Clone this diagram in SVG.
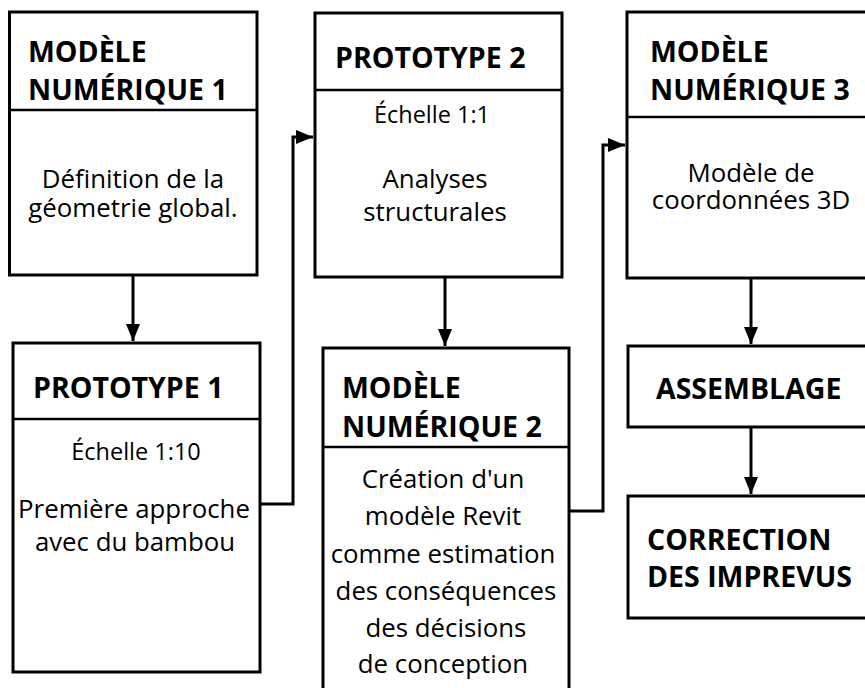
<svg xmlns="http://www.w3.org/2000/svg" width="865" height="688" viewBox="0 0 865 688">
<style>
.box{fill:#fff;stroke:#000;stroke-width:3}
.div{stroke:#000;stroke-width:2.5}
.h{font-family:"Open Sans","Liberation Sans",sans-serif;font-weight:bold;font-size:28.5px;fill:#000}
.b{font-family:"Open Sans","Liberation Sans",sans-serif;font-size:25.8px;fill:#000;text-anchor:middle}
.s{font-family:"Open Sans","Liberation Sans",sans-serif;font-size:23.5px;fill:#000;text-anchor:middle}
.c{fill:none;stroke:#000;stroke-width:3}
</style>
<defs>
<marker id="arr" markerUnits="userSpaceOnUse" markerWidth="18" markerHeight="14" refX="17" refY="7" orient="auto">
<path d="M0,0 L17,7 L0,14 Z" fill="#000"/>
</marker>
</defs>
<rect width="865" height="688" fill="#fff"/>
<g id="connectors">
<path class="c" d="M133,275 V341" marker-end="url(#arr)"/>
<path class="c" d="M260,504 H293 V137 H313" marker-end="url(#arr)"/>
<path class="c" d="M445,277 V346" marker-end="url(#arr)"/>
<path class="c" d="M569,511 H603 V145 H625" marker-end="url(#arr)"/>
<path class="c" d="M751,278 V344" marker-end="url(#arr)"/>
<path class="c" d="M751,427 V494" marker-end="url(#arr)"/>
</g>
<g id="modele1">
<rect class="box" x="9.5" y="12" width="247.5" height="263"/>
<line class="div" x1="9.5" y1="110" x2="257" y2="110"/>
<text class="h" x="28" y="62">MODÈLE</text>
<text class="h" x="28" y="100">NUMÉRIQUE 1</text>
<text class="b" x="133" y="188">Définition de la</text>
<text class="b" x="133" y="217">géometrie global.</text>
</g>
<g id="prototype1">
<rect class="box" x="13" y="343" width="247" height="329"/>
<line class="div" x1="13" y1="419" x2="260" y2="419"/>
<text class="h" x="33" y="398">PROTOTYPE 1</text>
<text class="s" x="136" y="460">Échelle 1:10</text>
<text class="b" x="134" y="518">Première approche</text>
<text class="b" x="135" y="551">avec du bambou</text>
</g>
<g id="prototype2">
<rect class="box" x="315" y="13" width="247" height="264"/>
<line class="div" x1="315" y1="90" x2="562" y2="90"/>
<text class="h" x="335" y="68">PROTOTYPE 2</text>
<text class="s" x="432" y="123">Échelle 1:1</text>
<text class="b" x="435" y="188">Analyses</text>
<text class="b" x="435" y="221">structurales</text>
</g>
<g id="modele2">
<rect class="box" x="323" y="348" width="246" height="360"/>
<line class="div" x1="323" y1="447" x2="569" y2="447"/>
<text class="h" x="342" y="398">MODÈLE</text>
<text class="h" x="342" y="437">NUMÉRIQUE 2</text>
<text class="b" x="443" y="488">Création d'un</text>
<text class="b" x="443" y="525">modèle Revit</text>
<text class="b" x="443" y="563">comme estimation</text>
<text class="b" x="446" y="600">des conséquences</text>
<text class="b" x="446" y="637">des décisions</text>
<text class="b" x="443" y="673">de conception</text>
</g>
<g id="modele3">
<rect class="box" x="627" y="12" width="260" height="266"/>
<line class="div" x1="627" y1="117" x2="887" y2="117"/>
<text class="h" x="650" y="62">MODÈLE</text>
<text class="h" x="650" y="100">NUMÉRIQUE 3</text>
<text class="b" x="751" y="182">Modèle de</text>
<text class="b" x="751" y="209">coordonnées 3D</text>
</g>
<g id="assemblage">
<rect class="box" x="628" y="346" width="260" height="81"/>
<text class="h" x="656" y="399">ASSEMBLAGE</text>
</g>
<g id="correction">
<rect class="box" x="628" y="496" width="260" height="122"/>
<text class="h" x="647" y="550">CORRECTION</text>
<text class="h" x="647" y="587">DES IMPREVUS</text>
</g>
</svg>
